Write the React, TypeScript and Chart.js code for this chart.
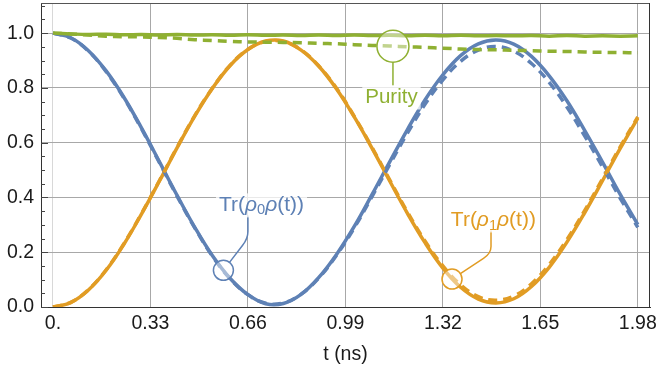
import React, { useEffect, useRef } from "react";
import { Chart, registerables } from "chart.js";

Chart.register(...registerables);

// ---------- data ----------
const T = [
  0, 0.06, 0.12, 0.18, 0.24, 0.3, 0.36, 0.42, 0.48, 0.54, 0.6, 0.66, 0.72, 0.78, 0.84, 0.9, 0.96,
  1.02, 1.08, 1.14, 1.2, 1.26, 1.32, 1.38, 1.44, 1.5, 1.56, 1.62, 1.68, 1.74, 1.8, 1.86, 1.92, 1.98,
];
const TR0_SOLID = [
  1.0, 0.983, 0.936, 0.862, 0.766, 0.653, 0.531, 0.408, 0.291, 0.187, 0.104, 0.045, 0.012, 0.013, 0.046, 0.108, 0.192,
  0.294, 0.41, 0.53, 0.648, 0.757, 0.848, 0.918, 0.961, 0.975, 0.96, 0.915, 0.844, 0.753, 0.645, 0.53, 0.412, 0.301,
];
const TR0_DASHED = [
  1.0, 0.982, 0.934, 0.859, 0.763, 0.65, 0.528, 0.405, 0.289, 0.185, 0.103, 0.045, 0.014, 0.015, 0.047, 0.106, 0.189,
  0.289, 0.403, 0.52, 0.635, 0.741, 0.829, 0.897, 0.938, 0.951, 0.934, 0.889, 0.82, 0.73, 0.625, 0.513, 0.398, 0.291,
];
const TR1_SOLID = [
  0.0, 0.016, 0.062, 0.134, 0.229, 0.34, 0.459, 0.581, 0.697, 0.799, 0.882, 0.94, 0.971, 0.971, 0.938, 0.879, 0.796,
  0.694, 0.58, 0.46, 0.342, 0.234, 0.142, 0.072, 0.029, 0.015, 0.03, 0.075, 0.145, 0.237, 0.344, 0.46, 0.578, 0.69,
];
const TR1_DASHED = [
  0.0, 0.017, 0.063, 0.136, 0.231, 0.342, 0.461, 0.583, 0.699, 0.8, 0.883, 0.941, 0.969, 0.969, 0.939, 0.88, 0.799,
  0.696, 0.583, 0.464, 0.347, 0.24, 0.15, 0.081, 0.038, 0.025, 0.04, 0.085, 0.155, 0.246, 0.352, 0.467, 0.584, 0.694,
];
const PURITY_SOLID = [
  1.0, 0.997, 0.995, 0.996, 0.994, 0.995, 0.993, 0.995, 0.993, 0.994, 0.992, 0.994, 0.992, 0.993, 0.991, 0.993, 0.991,
  0.993, 0.991, 0.992, 0.99, 0.992, 0.99, 0.992, 0.99, 0.991, 0.99, 0.991, 0.989, 0.991, 0.989, 0.99, 0.989, 0.99,
];
const PURITY_DASHED = [
  1.0, 0.997, 0.993, 0.989, 0.987, 0.986, 0.984, 0.981, 0.976, 0.973, 0.97, 0.968, 0.967, 0.966, 0.965, 0.963, 0.961,
  0.958, 0.955, 0.953, 0.95, 0.948, 0.945, 0.942, 0.94, 0.939, 0.937, 0.936, 0.934, 0.933, 0.931, 0.93, 0.929, 0.928,
];

const X_TICKS = [0, 0.33, 0.66, 0.99, 1.32, 1.65, 1.98];
const X_TICK_LABELS = ["0.", "0.33", "0.66", "0.99", "1.32", "1.65", "1.98"];
const Y_TICKS = [0, 0.2, 0.4, 0.6, 0.8, 1.0];
const Y_TICK_LABELS = ["0.0", "0.2", "0.4", "0.6", "0.8", "1.0"];
const Y_MINOR_TICKS = [
  0.05, 0.1, 0.15, 0.25, 0.3, 0.35, 0.45, 0.5, 0.55, 0.65, 0.7, 0.75, 0.85, 0.9, 0.95, 1.05, 1.1,
];
const X_TITLE = "t (ns)";

const BLUE = "#5E81B5";
const ORANGE = "#E19C24";
const GREEN = "#8FB032";
const FONT = '"Liberation Sans", Arial, Helvetica, sans-serif';

type Part = { text: string; italic?: boolean; sub?: boolean };
type Callout = {
  color: string;
  point: [number, number];
  radius: number;
  label: [number, number];
  parts: Part[];
  size: number;
  stickX?: number;
};

const CALLOUTS: Callout[] = [
  {
    color: GREEN,
    point: [1.151, 0.952],
    radius: 16,
    label: [1.146, 0.765],
    size: 20.5,
    parts: [{ text: "Purity" }],
  },
  {
    color: BLUE,
    point: [0.577, 0.134],
    radius: 10,
    label: [0.706, 0.371],
    stickX: 0.66,
    size: 21,
    parts: [
      { text: "Tr(" },
      { text: "ρ", italic: true },
      { text: "0", sub: true },
      { text: "ρ", italic: true },
      { text: "(t))" },
    ],
  },
  {
    color: ORANGE,
    point: [1.351, 0.102],
    radius: 10,
    label: [1.491, 0.316],
    stickX: 1.483,
    size: 21,
    parts: [
      { text: "Tr(" },
      { text: "ρ", italic: true },
      { text: "1", sub: true },
      { text: "ρ", italic: true },
      { text: "(t))" },
    ],
  },
];

function pts(vals: number[]) {
  return T.map((t, i) => ({ x: t, y: vals[i] }));
}

function partFont(p: Part, size: number) {
  if (p.sub) return `${(size * 0.7).toFixed(1)}px ${FONT}`;
  if (p.italic) return `italic ${size}px ${FONT}`;
  return `${size}px ${FONT}`;
}

const decorPlugin = {
  id: "decor",
  beforeDatasetsDraw(chart: any) {
    const ctx = chart.ctx;
    const { left, right, top, bottom } = chart.chartArea;
    const ys = chart.scales.y;
    ctx.save();
    ctx.lineWidth = 1;
    ctx.strokeStyle = "#555";
    ctx.beginPath();
    ctx.moveTo(left, Math.round(top) + 0.5);
    ctx.lineTo(right, Math.round(top) + 0.5);
    ctx.stroke();
    ctx.strokeStyle = "#333";
    ctx.beginPath();
    ctx.moveTo(Math.round(right) - 0.5, top);
    ctx.lineTo(Math.round(right) - 0.5, bottom);
    ctx.stroke();
    ctx.strokeStyle = "#444";
    const drawTick = (v: number, len: number) => {
      const y = Math.round(ys.getPixelForValue(v)) + 0.5;
      ctx.beginPath();
      ctx.moveTo(left, y);
      ctx.lineTo(left + len, y);
      ctx.stroke();
    };
    Y_MINOR_TICKS.forEach((v) => drawTick(v, 4));
    Y_TICKS.forEach((v) => drawTick(v, 7));
    ctx.restore();
  },
  afterDatasetsDraw(chart: any) {
    const ctx = chart.ctx;
    const xs = chart.scales.x;
    const ys = chart.scales.y;
    ctx.save();
    CALLOUTS.forEach((c) => {
      const cx = xs.getPixelForValue(c.point[0]);
      const cy = ys.getPixelForValue(c.point[1]);
      const lx = xs.getPixelForValue(c.label[0]);
      const ly = ys.getPixelForValue(c.label[1]);
      const halfH = 12;
      ctx.strokeStyle = c.color;
      ctx.lineWidth = 1.5;
      ctx.beginPath();
      if (c.stickX === undefined) {
        ctx.moveTo(cx, cy + c.radius);
        ctx.lineTo(cx, ly - halfH);
      } else {
        const sx = xs.getPixelForValue(c.stickX);
        const top = ly + halfH;
        const vEnd = top + 14;
        const ctrlX = sx;
        const ctrlY = vEnd + 7;
        let dx = cx - ctrlX;
        let dy = cy - ctrlY;
        let d = Math.hypot(dx, dy);
        const ex = ctrlX + (dx / d) * 9;
        const ey = ctrlY + (dy / d) * 9;
        dx = ex - cx;
        dy = ey - cy;
        d = Math.hypot(dx, dy);
        const edgeX = cx + (dx / d) * c.radius;
        const edgeY = cy + (dy / d) * c.radius;
        ctx.moveTo(sx, top - 2);
        ctx.lineTo(sx, vEnd);
        ctx.quadraticCurveTo(ctrlX, ctrlY, ex, ey);
        ctx.lineTo(edgeX, edgeY);
      }
      ctx.stroke();
      ctx.beginPath();
      ctx.arc(cx, cy, c.radius, 0, Math.PI * 2);
      ctx.fillStyle = "rgba(255,255,255,0.45)";
      ctx.fill();
      ctx.lineWidth = 1.5;
      ctx.stroke();
      let w = 0;
      const widths = c.parts.map((p) => {
        ctx.font = partFont(p, c.size);
        const m = ctx.measureText(p.text).width;
        w += m;
        return m;
      });
      ctx.fillStyle = "rgba(255,255,255,0.75)";
      ctx.fillRect(lx - w / 2 - 3, ly - halfH, w + 6, halfH * 2);
      ctx.fillStyle = c.color;
      ctx.textBaseline = "middle";
      ctx.textAlign = "left";
      let x = lx - w / 2;
      c.parts.forEach((p, i) => {
        ctx.font = partFont(p, c.size);
        ctx.fillText(p.text, x, p.sub ? ly + 5 : ly);
        x += widths[i];
      });
    });
    ctx.restore();
  },
};

export default function App() {
  const ref = useRef<HTMLCanvasElement | null>(null);

  useEffect(() => {
    if (!ref.current) return;
    const lineDs = (label: string, vals: number[], color: string, dashed: boolean, order: number) => ({
      label,
      data: pts(vals),
      borderColor: color,
      backgroundColor: color,
      borderWidth: 3.5,
      borderDash: dashed ? [9, 6] : [],
      borderCapStyle: "butt",
      pointRadius: 0,
      pointHoverRadius: 0,
      tension: 0.4,
      fill: false,
      order,
    });
    const chart = new Chart(ref.current, {
      type: "line",
      data: {
        datasets: [
          lineDs("Tr(ρ0ρ(t))", TR0_SOLID, BLUE, false, 5),
          lineDs("Tr(ρ1ρ(t))", TR1_SOLID, ORANGE, false, 4),
          lineDs("Purity", PURITY_SOLID, GREEN, false, 3),
          lineDs("Tr(ρ0ρ(t)) dashed", TR0_DASHED, BLUE, true, 2),
          lineDs("Tr(ρ1ρ(t)) dashed", TR1_DASHED, ORANGE, true, 1),
          lineDs("Purity dashed", PURITY_DASHED, GREEN, true, 0),
        ] as any,
      },
      options: {
        animation: false,
        responsive: false,
        maintainAspectRatio: false,
        events: [],
        layout: { padding: { left: 0, right: 8, top: 3, bottom: 0 } },
        plugins: {
          legend: { display: false },
          tooltip: { enabled: false },
        },
        scales: {
          x: {
            type: "linear",
            min: -0.0406,
            max: 2.0213,
            afterBuildTicks: (scale: any) => {
              scale.ticks = X_TICKS.map((v) => ({ value: v }));
            },
            afterFit: (scale: any) => {
              scale.height = 76;
              scale.paddingLeft = 0;
              scale.paddingRight = 0;
            },
            ticks: {
              autoSkip: false,
              maxRotation: 0,
              padding: 5,
              color: "#1a1a1a",
              font: { size: 19.5, family: FONT },
              callback: (_v: any, i: number) => X_TICK_LABELS[i],
            },
            grid: {
              drawTicks: false,
              lineWidth: 1,
              color: (ctx: any) => (ctx.tick && ctx.tick.value === 0 ? "#d8d8d8" : "#a8a8a8"),
            },
            border: { display: true, color: "#333", width: 1 },
            title: {
              display: true,
              text: X_TITLE,
              color: "#1a1a1a",
              font: { size: 19.5, family: FONT },
              padding: { top: 0, bottom: 17 },
            },
          },
          y: {
            type: "linear",
            min: 0,
            max: 1.11,
            afterBuildTicks: (scale: any) => {
              scale.ticks = Y_TICKS.map((v) => ({ value: v }));
            },
            afterFit: (scale: any) => {
              scale.width = 41;
              scale.paddingTop = 0;
              scale.paddingBottom = 0;
            },
            ticks: {
              padding: 7,
              color: "#1a1a1a",
              font: { size: 19.5, family: FONT },
              callback: (_v: any, i: number) => Y_TICK_LABELS[i],
            },
            grid: {
              drawTicks: false,
              lineWidth: 1,
              color: (ctx: any) => (ctx.tick && ctx.tick.value === 0 ? "rgba(0,0,0,0)" : "#a8a8a8"),
            },
            border: { display: true, color: "#333", width: 1 },
          },
        },
      },
      plugins: [decorPlugin],
    } as any);
    return () => chart.destroy();
  }, []);

  return (
    <div style={{ position: "absolute", left: 0, top: 0, width: 658, height: 383, background: "#fff" }}>
      <canvas ref={ref} width={658} height={383} style={{ display: "block" }} />
    </div>
  );
}
